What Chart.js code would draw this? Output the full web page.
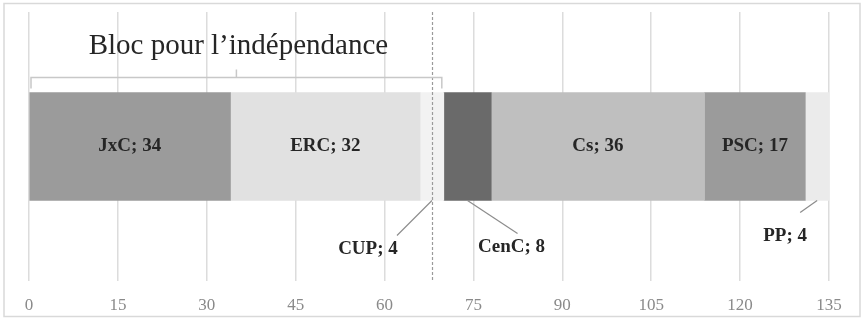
<!DOCTYPE html>
<html>
<head>
<meta charset="utf-8">
<script src="https://cdn.jsdelivr.net/npm/chart.js@4"></script>
<style>
  html, body { margin: 0; padding: 0; background: #fff; }
  #wrap { width: 866px; height: 319px; }
</style>
</head>
<body>
<div id="wrap"><canvas id="seatsChart" width="866" height="319"></canvas></div>
<script>
// seats per party, in the order they appear on the bar
const parties = ['JxC', 'ERC', 'CUP', 'CenC', 'Cs', 'PSC', 'PP'];
const seats = [34, 32, 4, 8, 36, 17, 4];
const xTicks = [0, 15, 30, 45, 60, 75, 90, 105, 120, 135];
const majority = 68;
const blocTitle = 'Bloc pour l\u2019indépendance';
const blocParties = ['JxC', 'ERC', 'CUP'];

const colors = ['#9b9b9b', '#e1e1e1', '#f2f2f2', '#6a6a6a', '#bfbfbf', '#9b9b9b', '#ebebeb'];
const serif = "'Liberation Serif', 'DejaVu Serif', serif";

// small segments get their label outside with a leader line (pixel offsets)
const callouts = {
  CUP:  { line: [-35, 35], text: [-64, 49] },
  CenC: { line: [50, 33],  text: [44, 47] },
  PP:   { line: [-17, 12], text: [-32, 36] }
};

const datasets = parties.map(function (p, i) {
  return {
    label: p,
    data: [seats[i]],
    backgroundColor: colors[i],
    borderWidth: 0,
    barThickness: 108
  };
});

const decorPlugin = {
  id: 'decor',
  beforeDraw: function (chart) {
    const ctx = chart.ctx;
    ctx.save();
    ctx.strokeStyle = '#d9d9d9';
    ctx.lineWidth = 1.5;
    ctx.strokeRect(4, 3.5, 856, 313);
    ctx.restore();
  },
  afterDatasetsDraw: function (chart) {
    const ctx = chart.ctx;
    const x = chart.scales.x;
    const area = chart.chartArea;
    const meta0 = chart.getDatasetMeta(0).data[0];
    const barTop = meta0.y - meta0.height / 2;
    const barBottom = meta0.y + meta0.height / 2;
    ctx.save();

    // majority line
    const mx = Math.round(x.getPixelForValue(majority)) + 0.5;
    ctx.strokeStyle = '#9a9a9a';
    ctx.lineWidth = 1.2;
    ctx.setLineDash([3, 2]);
    ctx.beginPath();
    ctx.moveTo(mx, area.top);
    ctx.lineTo(mx, area.bottom);
    ctx.stroke();
    ctx.setLineDash([]);

    // bracket over the independence bloc
    let blocSeats = 0;
    blocParties.forEach(function (p) { blocSeats += seats[parties.indexOf(p)]; });
    const bx0 = x.getPixelForValue(0) + 2;
    const bx1 = x.getPixelForValue(blocSeats) - 2;
    const bmid = (bx0 + bx1) / 2;
    const by = barTop - 15;
    ctx.strokeStyle = '#c8c8c8';
    ctx.lineWidth = 1.5;
    ctx.beginPath();
    ctx.moveTo(bx0, barTop - 4);
    ctx.lineTo(bx0, by);
    ctx.lineTo(bx1, by);
    ctx.lineTo(bx1, barTop - 4);
    ctx.moveTo(bmid, by);
    ctx.lineTo(bmid, by - 8);
    ctx.stroke();

    ctx.fillStyle = '#262626';
    ctx.font = '29px ' + serif;
    ctx.textAlign = 'center';
    ctx.textBaseline = 'alphabetic';
    ctx.fillText(blocTitle, bmid + 2, 54);

    // data labels
    let start = 0;
    ctx.font = 'bold 19px ' + serif;
    ctx.textBaseline = 'middle';
    parties.forEach(function (p, i) {
      const end = start + seats[i];
      const cx = x.getPixelForValue((start + end) / 2);
      const txt = p + '; ' + seats[i];
      const c = callouts[p];
      if (c) {
        ctx.strokeStyle = '#8c8c8c';
        ctx.lineWidth = 1.2;
        ctx.beginPath();
        ctx.moveTo(cx, barBottom);
        ctx.lineTo(cx + c.line[0], barBottom + c.line[1]);
        ctx.stroke();
        ctx.fillStyle = '#262626';
        ctx.fillText(txt, cx + c.text[0], barBottom + c.text[1]);
      } else {
        ctx.fillStyle = '#262626';
        ctx.fillText(txt, cx, meta0.y);
      }
      start = end;
    });
    ctx.restore();
  }
};

const ctx = document.getElementById('seatsChart').getContext('2d');
const seatsChart = new Chart(ctx, {
  type: 'bar',
  data: { labels: ['Sièges'], datasets: datasets },
  options: {
    indexAxis: 'y',
    responsive: false,
    animation: false,
    layout: { padding: { left: 29, right: 37, top: 12, bottom: 0 } },
    plugins: { legend: { display: false }, tooltip: { enabled: false } },
    scales: {
      x: {
        stacked: true,
        min: xTicks[0],
        max: xTicks[xTicks.length - 1],
        afterBuildTicks: function (axis) {
          axis.ticks = xTicks.map(function (v) { return { value: v }; });
        },
        afterFit: function (axis) {
          axis.height = 38;
        },
        ticks: {
          autoSkip: false,
          maxRotation: 0,
          padding: 14,
          color: '#8a8a8a',
          font: { family: serif, size: 17 }
        },
        grid: { color: '#dcdcdc', lineWidth: 1.5, drawTicks: false },
        border: { display: false }
      },
      y: { stacked: true, display: false }
    }
  },
  plugins: [decorPlugin]
});
</script>
</body>
</html>
